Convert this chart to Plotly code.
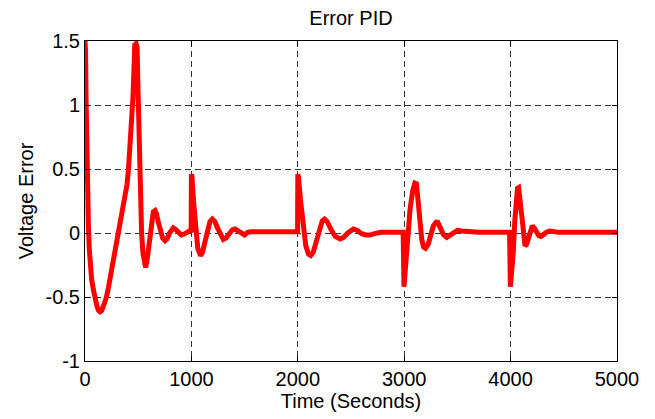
import plotly.graph_objects as go

# Time (s) and voltage error
time_s = [0, 5, 10, 14, 18, 22, 26, 32, 40, 48, 62, 78, 95, 112, 128, 142, 158, 175, 195, 215,
          235, 255, 275, 298, 318, 340, 360, 380, 395, 408, 420, 432, 442, 450, 456, 462, 468, 480,
          490, 496, 502, 508, 515, 522, 532, 545, 558, 570, 582, 595, 610, 625, 642, 658, 672, 690,
          710, 730, 752, 772, 795, 815, 830, 850, 875, 905, 930, 960, 985, 998,
          1000, 1005, 1020, 1040, 1060, 1085, 1105, 1130, 1155, 1175, 1197, 1220, 1245, 1270, 1300,
          1325, 1355, 1385, 1410, 1440, 1470, 1500, 1530, 1560, 1700, 1850, 1998,
          2000, 2006, 2025, 2050, 2075, 2100, 2122, 2145, 2175, 2205, 2230, 2251, 2275, 2310, 2350,
          2398, 2430, 2470, 2505, 2523, 2560, 2600, 2640, 2679, 2720, 2780, 2900, 2990,
          2998, 3023, 3040, 3055, 3080, 3100, 3115, 3125, 3135, 3150, 3165, 3182, 3200, 3225, 3250,
          3274, 3300, 3315, 3340, 3370, 3400, 3430, 3460, 3500, 3540, 3590, 3700, 3850, 3990,
          3998, 4008, 4025, 4040, 4051, 4065, 4075, 4083, 4090, 4100, 4110, 4120, 4135, 4150, 4167,
          4185, 4204, 4225, 4245, 4265, 4286, 4310, 4340, 4370, 4400, 4450, 4600, 4800, 5000]
voltage_error = [1.50, 1.42, 1.05, 0.78, 0.55, 0.35, 0.15, 0.05, -0.12, -0.25, -0.36, -0.44, -0.52,
                 -0.57, -0.605, -0.615, -0.605, -0.575, -0.52, -0.45,
                 -0.36, -0.27, -0.18, -0.09, 0.0, 0.10, 0.19, 0.29, 0.38, 0.49, 0.62, 0.76, 0.88,
                 1.05, 1.18, 1.38, 1.47, 1.48,
                 1.45, 1.2, 0.92, 0.65, 0.4, 0.2, 0.0, -0.16, -0.26, -0.27, -0.22, -0.12, 0.0, 0.1,
                 0.165, 0.175, 0.15, 0.08,
                 0.01, -0.04, -0.06, -0.045, 0.0, 0.035, 0.04, 0.03, 0.005, -0.015, -0.01, 0.01,
                 0.018, 0.02,
                 0.458, 0.44, 0.25, 0.02, -0.12, -0.176, -0.15, -0.06, 0.03, 0.09, 0.109, 0.09,
                 0.04, -0.01, -0.05,
                 -0.04, -0.005, 0.025, 0.031, 0.015, -0.005, -0.015, 0.005, 0.01, 0.01, 0.01, 0.01,
                 0.458, 0.44, 0.26, 0.03, -0.1, -0.165, -0.176, -0.15, -0.06, 0.04, 0.095, 0.109,
                 0.09, 0.03, -0.025,
                 -0.047, -0.035, 0.0, 0.028, 0.031, 0.02, -0.005, -0.015, -0.016, -0.005, 0.005,
                 0.005, 0.005,
                 -0.42, -0.15, 0.05, 0.186, 0.33, 0.39, 0.385, 0.28, 0.16, 0.04, -0.05, -0.11,
                 -0.12, -0.09, -0.02,
                 0.055, 0.085, 0.083, 0.04, -0.015, -0.034, -0.02, 0.005, 0.02, 0.015, 0.01, 0.005,
                 0.005, 0.005,
                 -0.42, -0.35, -0.15, 0.1, 0.24, 0.35, 0.355, 0.25, 0.19, 0.17, 0.1, -0.02, -0.1,
                 -0.09, -0.05,
                 0.02, 0.057, 0.035, 0.0, -0.02, -0.026, -0.01, 0.008, 0.015, 0.008, 0.005, 0.005,
                 0.005, 0.005]

x_ticks = [0, 1000, 2000, 3000, 4000, 5000]
x_tick_labels = ["0", "1000", "2000", "3000", "4000", "5000"]
y_ticks = [-1, -0.5, 0, 0.5, 1, 1.5]
y_tick_labels = ["-1", "-0.5", "0", "0.5", "1", "1.5"]

FONT = "Liberation Sans, Arial, Helvetica, sans-serif"

fig = go.Figure(go.Scatter(x=time_s, y=voltage_error, mode="lines",
                           line=dict(color="#ff0000", width=5), showlegend=False))

axis_common = dict(
    showline=True, linecolor="black", linewidth=1, mirror="ticks",
    ticks="inside", ticklen=5, tickcolor="black", tickwidth=1,
    showgrid=True, gridcolor="#333333", gridwidth=1, griddash="6px,4px",
    zeroline=False, tickfont=dict(family=FONT, size=20, color="black"),
)

fig.update_layout(
    width=655, height=419,
    margin=dict(l=85, r=38, t=41, b=56, pad=0),
    paper_bgcolor="white", plot_bgcolor="white",
    title=dict(text="Error PID", x=0.5, xref="paper", xanchor="center",
               y=1 - 17.5 / 419, yref="container", yanchor="middle",
               font=dict(family=FONT, size=20, color="black")),
    xaxis=dict(range=[0, 5000], tickvals=x_ticks, ticktext=x_tick_labels,
               title=dict(text="Time (Seconds)", standoff=3,
                          font=dict(family=FONT, size=20, color="black")),
               **axis_common),
    yaxis=dict(range=[-1, 1.5], tickvals=y_ticks, ticktext=y_tick_labels,
               title=dict(text="Voltage Error", standoff=6,
                          font=dict(family=FONT, size=20, color="black")),
               **axis_common),
)

fig.write_html("out.html")
